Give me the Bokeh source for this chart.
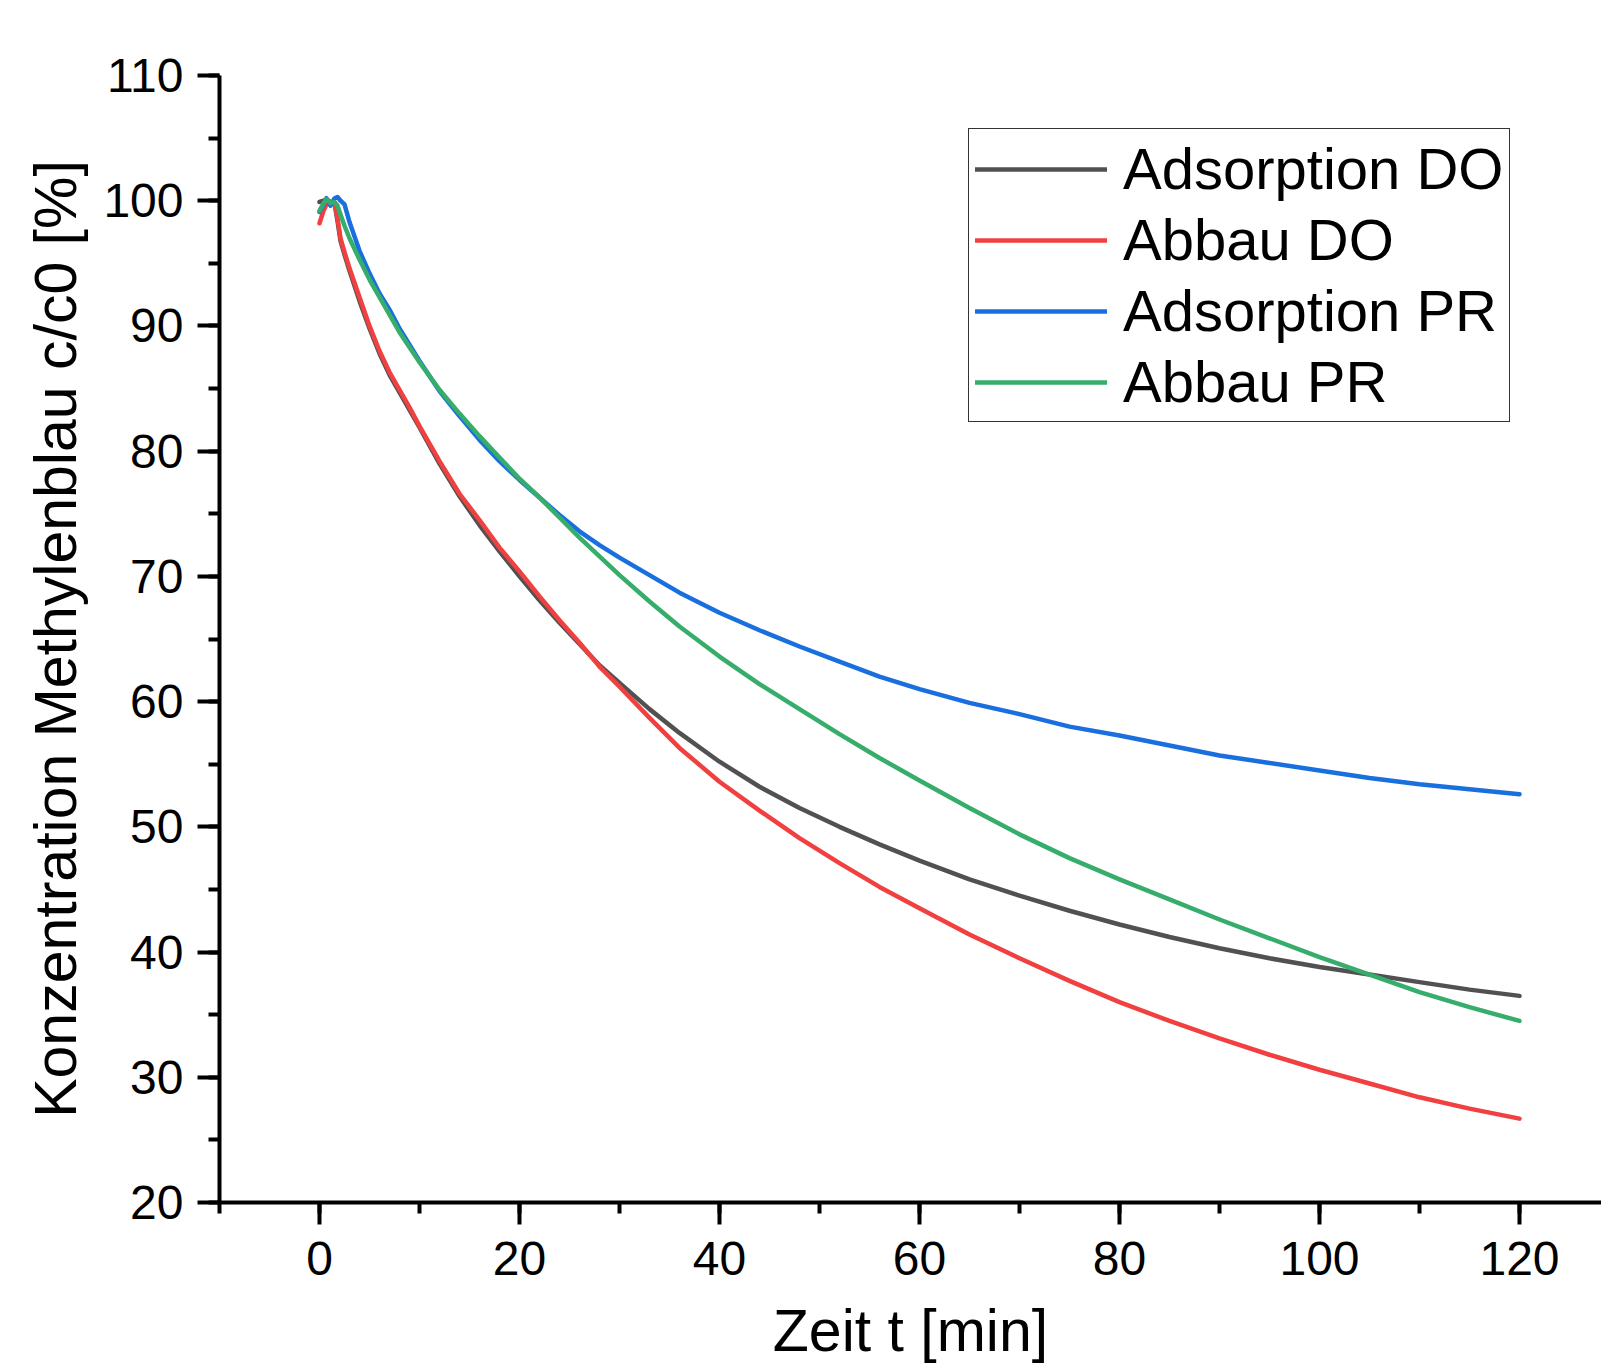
from bokeh.plotting import figure
from bokeh.models import Range1d, SingleIntervalTicker, Legend, LegendItem
from bokeh.embed import file_html
from bokeh.resources import INLINE

# ---- data ----
t_min = [0, 0.4, 0.7, 1.1, 1.5, 1.8, 2.1, 2.5, 3, 4, 5, 6, 7, 8, 9, 10, 12, 14, 16, 18,
         20, 22, 24, 26, 28, 30, 33, 36, 40, 44, 48, 52, 56, 60, 65, 70, 75, 80, 85,
         90, 95, 100, 105, 110, 115, 120]

adsorption_do = [99.9, 100.0, 100.1, 99.9, 99.8, 98.4, 96.8, 95.7, 94.4, 92.0, 89.8, 87.8,
                 86.1, 84.7, 83.3, 81.9, 79.0, 76.4, 74.1, 72.0, 70.0, 68.1, 66.3, 64.6,
                 62.9, 61.5, 59.4, 57.5, 55.2, 53.2, 51.5, 50.0, 48.6, 47.3, 45.8, 44.5,
                 43.3, 42.2, 41.2, 40.3, 39.5, 38.8, 38.2, 37.6, 37.0, 36.5]

abbau_do = [98.2, 99.2, 99.7, 99.8, 99.9, 98.6, 97.0, 95.9, 94.6, 92.3, 90.0, 88.0,
            86.3, 84.9, 83.5, 82.0, 79.2, 76.6, 74.5, 72.3, 70.4, 68.4, 66.5, 64.7,
            62.8, 61.2, 58.7, 56.3, 53.6, 51.3, 49.1, 47.1, 45.2, 43.5, 41.4, 39.5,
            37.7, 36.0, 34.5, 33.1, 31.8, 30.6, 29.5, 28.4, 27.5, 26.7]

adsorption_pr = [99.1, 99.7, 100.2, 99.6, 100.2, 100.3, 100.0, 99.7, 98.3, 96.0, 94.2, 92.6,
                 91.3, 89.8, 88.5, 87.2, 84.8, 82.8, 80.9, 79.2, 77.7, 76.3, 74.9, 73.6,
                 72.5, 71.5, 70.1, 68.7, 67.1, 65.7, 64.4, 63.2, 62.0, 61.0, 59.9, 59.0,
                 58.0, 57.3, 56.5, 55.7, 55.1, 54.5, 53.9, 53.4, 53.0, 52.6]

abbau_pr = [99.2, 99.8, 100.1, 99.8, 99.9, 99.6, 98.9, 98.0, 97.0, 95.3, 93.7, 92.3,
            90.9, 89.5, 88.3, 87.1, 84.9, 83.0, 81.2, 79.5, 77.8, 76.3, 74.7, 73.1,
            71.6, 70.1, 68.0, 66.0, 63.6, 61.4, 59.4, 57.4, 55.5, 53.7, 51.5, 49.4,
            47.5, 45.8, 44.2, 42.6, 41.1, 39.6, 38.2, 36.8, 35.6, 34.5]

series_names = ["Adsorption DO", "Abbau DO", "Adsorption PR", "Abbau PR"]
series_values = [adsorption_do, abbau_do, adsorption_pr, abbau_pr]
series_colors = ["#515151", "#F14040", "#1A6FDF", "#37AD6B"]

x_label = "Zeit t [min]"
y_label = "Konzentration Methylenblau c/c0 [%]"

FONT = "Liberation Sans"

p = figure(width=1601, height=1366, output_backend="svg", toolbar_location=None,
           x_range=Range1d(-10, 128.2), y_range=Range1d(20, 110),
           min_border_left=219, min_border_right=0, min_border_top=75, min_border_bottom=164)

p.xgrid.visible = False
p.ygrid.visible = False
p.outline_line_color = None
p.background_fill_color = "white"
p.border_fill_color = "white"

p.xaxis.ticker = SingleIntervalTicker(interval=20, num_minor_ticks=2)
p.yaxis.ticker = SingleIntervalTicker(interval=10, num_minor_ticks=2)

for ax in (p.xaxis[0], p.yaxis[0]):
    ax.axis_line_color = "black"
    ax.axis_line_width = 4
    ax.major_tick_line_color = "black"
    ax.major_tick_line_width = 4
    ax.minor_tick_line_color = "black"
    ax.minor_tick_line_width = 4
    ax.major_tick_out = 22
    ax.major_tick_in = 0
    ax.minor_tick_out = 11
    ax.minor_tick_in = 0
    ax.major_label_text_font = FONT
    ax.major_label_text_font_size = "48px"
    ax.major_label_text_color = "black"
    ax.axis_label_text_font = FONT
    ax.axis_label_text_font_size = "59px"
    ax.axis_label_text_font_style = "normal"
    ax.axis_label_text_color = "black"

p.xaxis.major_label_standoff = 17
p.xaxis.axis_label = x_label
p.xaxis.axis_label_standoff = 20
p.yaxis.major_label_standoff = 14
p.yaxis.axis_label = y_label
p.yaxis.axis_label_standoff = 11

renderers = []
for name, vals, col in zip(series_names, series_values, series_colors):
    r = p.line(t_min, vals, line_color=col, line_width=4.5, line_join="round", line_cap="round")
    renderers.append(r)

legend = Legend(items=[LegendItem(label=n, renderers=[r]) for n, r in zip(series_names, renderers)],
                location=(749, 780), orientation="vertical",
                border_line_color="#333333", border_line_width=1.5, border_line_alpha=1.0,
                background_fill_color="white", background_fill_alpha=1.0,
                padding=6, spacing=4, margin=0,
                glyph_width=132, glyph_height=60, label_height=60, label_standoff=16,
                label_text_font=FONT, label_text_font_size="58px", label_text_color="black")
p.add_layout(legend)

open("out.html", "w").write(file_html(p, INLINE))
